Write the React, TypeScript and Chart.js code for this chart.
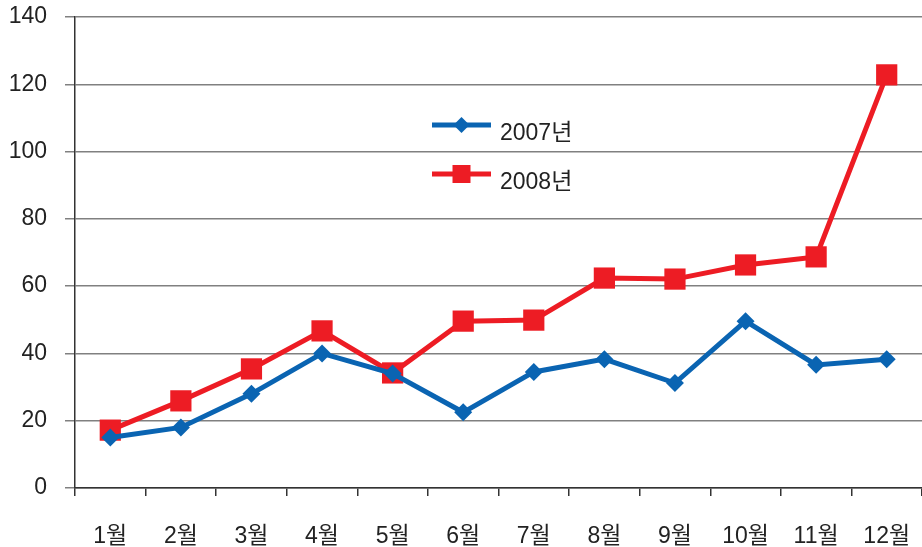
import React, { useEffect, useRef } from "react";
import { Chart, registerables } from "chart.js";

Chart.register(...registerables);

const categories = ["1월", "2월", "3월", "4월", "5월", "6월", "7월", "8월", "9월", "10월", "11월", "12월"];
const series2007 = [15, 18, 28, 40, 34, 22.5, 34.5, 38.3, 31.2, 49.6, 36.6, 38.3];
const series2008 = [17.2, 25.9, 35.4, 46.7, 34.2, 49.6, 49.9, 62.4, 62.1, 66.3, 68.7, 122.8];
const seriesNames = ["2007년", "2008년"];
const yMin = 0;
const yMax = 140;
const yStep = 20;

const BLUE = "#0a64b2";
const RED = "#ed1c24";
const FONT = "'Liberation Sans', 'Noto Sans CJK KR', sans-serif";

const legendPlugin = {
  id: "innerLegend",
  afterDraw(chart: any) {
    const ctx = chart.ctx;
    const x0 = 432;
    const ys = [125, 174];
    ctx.save();
    chart.data.datasets.forEach((ds: any, i: number) => {
      const y = ys[i];
      ctx.strokeStyle = ds.borderColor;
      ctx.lineWidth = 5;
      ctx.beginPath();
      ctx.moveTo(x0, y);
      ctx.lineTo(x0 + 59, y);
      ctx.stroke();
      ctx.fillStyle = ds.borderColor;
      const cx = x0 + 29.5;
      ctx.beginPath();
      if (ds.pointStyle === "rectRot") {
        const r = 8;
        ctx.moveTo(cx, y - r);
        ctx.lineTo(cx + r, y);
        ctx.lineTo(cx, y + r);
        ctx.lineTo(cx - r, y);
        ctx.closePath();
      } else {
        const h = 9;
        ctx.rect(cx - h, y - h, 2 * h, 2 * h);
      }
      ctx.fill();
      ctx.fillStyle = "#222";
      ctx.font = `23px ${FONT}`;
      ctx.textBaseline = "middle";
      ctx.textAlign = "left";
      ctx.fillText(ds.label, x0 + 68, y + 9);
    });
    ctx.restore();
  },
};

export default function App() {
  const ref = useRef<HTMLCanvasElement | null>(null);
  useEffect(() => {
    if (!ref.current) return;
    const chart = new Chart(ref.current, {
      type: "line",
      data: {
        labels: categories,
        datasets: [
          {
            label: seriesNames[0],
            data: series2007,
            borderColor: BLUE,
            backgroundColor: BLUE,
            borderWidth: 5,
            pointStyle: "rectRot",
            pointRadius: 9,
            pointBorderWidth: 0,
            tension: 0,
            clip: false,
          },
          {
            label: seriesNames[1],
            data: series2008,
            borderColor: RED,
            backgroundColor: RED,
            borderWidth: 5,
            pointStyle: "rect",
            pointRadius: 15,
            pointBorderWidth: 0,
            tension: 0,
            clip: false,
          },
        ],
      },
      options: {
        animation: false,
        responsive: false,
        maintainAspectRatio: false,
        layout: { autoPadding: false, padding: { top: 17, right: 0, left: 0, bottom: 0 } },
        plugins: {
          legend: { display: false },
          tooltip: { enabled: false },
        },
        scales: {
          x: {
            type: "category",
            offset: true,
            grid: {
              offset: true,
              drawOnChartArea: false,
              drawTicks: true,
              tickLength: 8,
              color: "#333",
              lineWidth: 1.5,
            },
            border: { display: true, color: "#333", width: 1.5 },
            ticks: {
              color: "#222",
              font: { family: FONT, size: 23 },
              padding: 27,
              maxRotation: 0,
              autoSkip: false,
            },
            afterFit(scale: any) {
              scale.height = 59;
              scale.paddingLeft = 0;
              scale.paddingRight = 0;
            },
          },
          y: {
            min: yMin,
            max: yMax,
            grid: {
              color: "#808080",
              lineWidth: 1.5,
              drawTicks: true,
              tickLength: 10,
            },
            border: { display: true, color: "#333", width: 1.5 },
            ticks: {
              stepSize: yStep,
              color: "#222",
              font: { family: FONT, size: 23 },
              padding: 18,
            },
            afterFit(scale: any) {
              scale.width = 75;
              scale.paddingTop = 0;
              scale.paddingBottom = 0;
            },
          },
        },
      },
      plugins: [legendPlugin],
    } as any);
    return () => chart.destroy();
  }, []);
  return (
    <div style={{ position: "fixed", left: 0, top: 0, width: 922, height: 547, background: "#fff" }}>
      <canvas ref={ref} width={922} height={547} style={{ display: "block" }} />
    </div>
  );
}
